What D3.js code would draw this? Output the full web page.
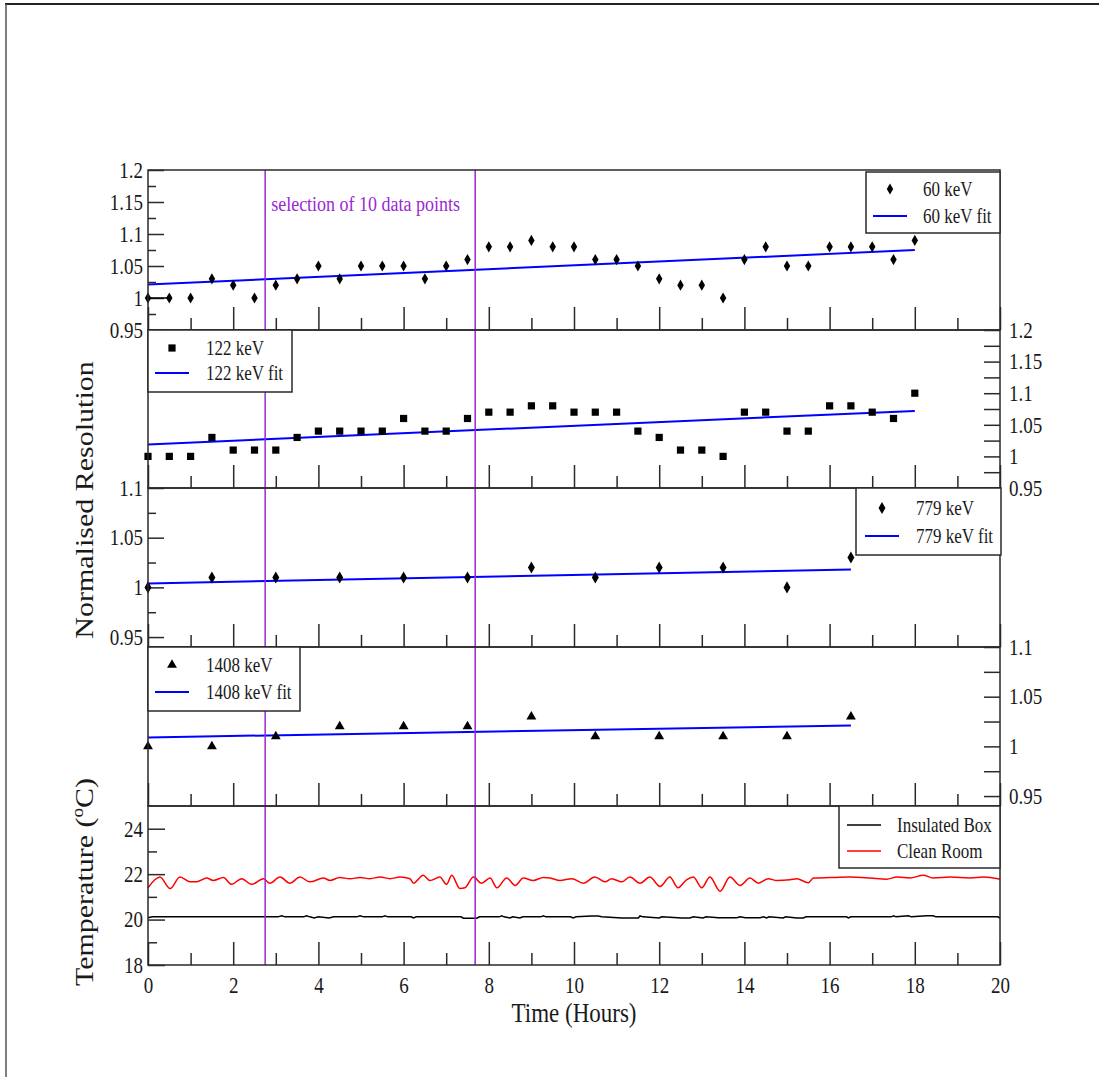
<!DOCTYPE html>
<html>
<head>
<meta charset="utf-8">
<title>Normalised Resolution vs Time</title>
<script src="https://cdn.jsdelivr.net/npm/d3@7"></script>
<style>
  body { margin: 0; background: #fff; }
  text { font-family: "Liberation Serif", "Times New Roman", serif; fill: #1a1a1a; }
</style>
</head>
<body>
<svg id="chart" width="1099" height="1077"></svg>
<script>
// ---- data ----
var timeHalf = [0, 0.5, 1, 1.5, 2, 2.5, 3, 3.5, 4, 4.5, 5, 5.5, 6, 6.5, 7, 7.5, 8, 8.5, 9,
                9.5, 10, 10.5, 11, 11.5, 12, 12.5, 13, 13.5, 14, 14.5, 15, 15.5, 16, 16.5, 17, 17.5, 18];
var res60 = [1.00, 1.00, 1.00, 1.03, 1.02, 1.00, 1.02, 1.03, 1.05, 1.03, 1.05, 1.05, 1.05, 1.03, 1.05, 1.06, 1.08, 1.08, 1.09,
             1.08, 1.08, 1.06, 1.06, 1.05, 1.03, 1.02, 1.02, 1.00, 1.06, 1.08, 1.05, 1.05, 1.08, 1.08, 1.08, 1.06, 1.09];
var fit60 = [1.021, 1.075];
var res122 = [1.00, 1.00, 1.00, 1.03, 1.01, 1.01, 1.01, 1.03, 1.04, 1.04, 1.04, 1.04, 1.06, 1.04, 1.04, 1.06, 1.07, 1.07, 1.08,
              1.08, 1.07, 1.07, 1.07, 1.04, 1.03, 1.01, 1.01, 1.00, 1.07, 1.07, 1.04, 1.04, 1.08, 1.08, 1.07, 1.06, 1.10];
var fit122 = [1.019, 1.072];

var timeSparse = [0, 1.5, 3, 4.5, 6, 7.5, 9, 10.5, 12, 13.5, 15, 16.5];
var res779 = [1.00, 1.01, 1.01, 1.01, 1.01, 1.01, 1.02, 1.01, 1.02, 1.02, 1.00, 1.03];
var fit779 = [1.004, 1.018];
var res1408 = [1.00, 1.00, 1.01, 1.02, 1.02, 1.02, 1.03, 1.01, 1.01, 1.01, 1.01, 1.03];
var fit1408 = [1.009, 1.021];

// clean room temperature (hours, deg C)
var roomTime = [0, 0.28, 0.52, 0.75, 0.99, 1.14, 1.38, 1.53, 1.77, 1.96, 2.2, 2.43, 2.71, 2.86, 3.1, 3.33, 3.57, 3.8,
                4.12, 4.27, 4.5, 4.74, 4.98, 5.21, 5.45, 5.68, 5.92, 6.15, 6.23, 6.46, 6.62, 6.85, 7.01, 7.13, 7.32,
                7.44, 7.64, 7.83, 8.03, 8.19, 8.42, 8.62, 8.81, 9.04, 9.28, 9.44, 9.67, 9.95, 10.22, 10.49, 10.73,
                10.88, 11.12, 11.31, 11.55, 11.78, 12.02, 12.25, 12.44, 12.64, 12.8, 13.0, 13.19, 13.43, 13.66,
                13.9, 14.13, 14.33, 14.56, 14.76, 15.07, 15.23, 15.5, 15.62, 16.0, 16.48, 16.95, 17.34, 17.58,
                17.89, 18.2, 18.43, 18.83, 19.3, 19.61, 19.95, 20];
var roomTemp = [21.40, 21.87, 21.37, 21.87, 21.66, 21.66, 21.83, 21.72, 21.85, 21.55, 21.80, 21.55, 21.80, 21.60, 21.87,
                21.60, 21.87, 21.66, 21.83, 21.72, 21.85, 21.80, 21.85, 21.80, 21.87, 21.80, 21.87, 21.80, 21.60,
                21.95, 21.72, 21.87, 21.55, 21.95, 21.37, 21.40, 21.87, 21.60, 21.83, 21.40, 21.83, 21.50, 21.83,
                21.72, 21.85, 21.83, 21.72, 21.80, 21.60, 21.87, 21.66, 21.80, 21.66, 21.87, 21.60, 21.87, 21.46,
                21.87, 21.40, 21.75, 21.87, 21.40, 21.87, 21.25, 21.87, 21.50, 21.83, 21.60, 21.80, 21.72, 21.75,
                21.80, 21.62, 21.83, 21.85, 21.87, 21.83, 21.78, 21.87, 21.83, 21.95, 21.83, 21.87, 21.83, 21.87,
                21.80, 21.78];

// insulated box temperature
var boxTime = [0, 0.1, 3.05, 3.14, 3.22, 3.65, 3.72, 3.8, 3.9, 4.0, 4.25, 4.36, 4.9, 4.98, 5.06, 5.5, 5.56, 5.63,
               6.18, 6.23, 6.3, 7.35, 7.4, 7.72, 7.78, 8.25, 8.3, 8.36, 8.5, 8.56, 8.73, 8.8, 9.22, 9.28, 9.34,
               9.92, 9.98, 10.05, 10.41, 10.57, 10.65, 11.12, 11.3, 11.51, 11.55, 11.62, 12.0, 12.06, 12.53, 12.72,
               12.8, 13.03, 13.1, 13.39, 13.82, 13.9, 14.02, 14.37, 14.45, 14.52, 14.58, 14.91, 14.97, 15.23, 15.38,
               15.45, 16.4, 16.44, 16.5, 17.45, 17.5, 17.56, 17.85, 17.92, 18.28, 18.43, 18.5, 19.95, 20];
var boxTemp = [20.08, 20.12, 20.12, 20.17, 20.12, 20.12, 20.17, 20.12, 20.07, 20.12, 20.07, 20.12, 20.12, 20.17, 20.12,
               20.12, 20.17, 20.12, 20.12, 20.07, 20.12, 20.12, 20.06, 20.06, 20.12, 20.12, 20.17, 20.12, 20.07,
               20.12, 20.07, 20.12, 20.12, 20.17, 20.12, 20.12, 20.07, 20.12, 20.16, 20.16, 20.12, 20.07, 20.07,
               20.07, 20.16, 20.12, 20.07, 20.12, 20.07, 20.07, 20.12, 20.07, 20.12, 20.08, 20.08, 20.12, 20.08,
               20.08, 20.12, 20.07, 20.12, 20.07, 20.12, 20.07, 20.07, 20.12, 20.12, 20.07, 20.12, 20.12, 20.17,
               20.12, 20.17, 20.12, 20.17, 20.17, 20.12, 20.12, 20.06];

var selection = [2.75, 7.68];

// tick labels
var xMajor = [0, 2, 4, 6, 8, 10, 12, 14, 16, 18, 20];
var xMinor = [1, 3, 5, 7, 9, 11, 13, 15, 17, 19];
var resTicksWide = [0.95, 1, 1.05, 1.1, 1.15, 1.2];
var resMinorWide = [0.975, 1.025, 1.075, 1.125, 1.175];
var resTicksNarrow = [0.95, 1, 1.05, 1.1];
var resMinorNarrow = [0.975, 1.025, 1.075];
var tempTicks = [18, 20, 22, 24];
var tempMinor = [19, 21, 23];

// ---- layout ----
var svg = d3.select("#chart");
var left = 148, right = 1000;
var SY = 1.2;   // the original figure is stretched vertically
var purple = "#9a28d4";
var frameColor = "#2a2a2a";

var x = d3.scaleLinear().domain([0, 20]).range([left, right]);

var panels = [
  {top: 170, bottom: 330, domain: [0.95, 1.2]},
  {top: 330, bottom: 488, domain: [0.95, 1.2]},
  {top: 488, bottom: 647, domain: [0.94, 1.1]},
  {top: 647, bottom: 806, domain: [0.94, 1.1]},
  {top: 806, bottom: 965, domain: [18, 25]}
];
panels.forEach(function(p) {
  p.y = d3.scaleLinear().domain(p.domain).range([p.bottom, p.top]);
});

// page border
svg.append("line").attr("x1", 5).attr("x2", 1099).attr("y1", 4).attr("y2", 4)
  .attr("stroke", "#222").attr("stroke-width", 2);
svg.append("line").attr("x1", 6).attr("x2", 6).attr("y1", 4).attr("y2", 1077)
  .attr("stroke", "#555").attr("stroke-width", 1.5);

function label(g, px, py, str, size, anchor) {
  return g.append("text")
    .attr("transform", "translate(" + px + "," + py + ") scale(1," + SY + ")")
    .attr("font-size", size)
    .attr("text-anchor", anchor || "start")
    .attr("dy", "0.35em")
    .text(str);
}

function styleAxis(sel) {
  sel.select(".domain").remove();
  sel.selectAll(".tick line").attr("stroke", frameColor).attr("stroke-width", 1.5);
  sel.selectAll("text").attr("font-family", "Liberation Serif").attr("fill", "#1a1a1a");
}

var fmt = d3.format("~g");

function yAxis(p, side, major, minor, majLen, minLen) {
  var mk = side === "left" ? d3.axisLeft : d3.axisRight;
  var pos = side === "left" ? left : right;
  var g1 = svg.append("g").attr("transform", "translate(" + pos + ",0)")
    .call(mk(p.y).tickValues(major).tickSizeInner(-majLen).tickSizeOuter(0)
      .tickPadding(side === "left" ? 5 : 9).tickFormat(fmt))
    .attr("font-size", 19);
  styleAxis(g1);
  g1.selectAll("text").attr("transform", "scale(1," + SY + ")");
  var g2 = svg.append("g").attr("transform", "translate(" + pos + ",0)")
    .call(mk(p.y).tickValues(minor).tickSizeInner(-minLen).tickSizeOuter(0).tickFormat(""));
  styleAxis(g2);
}

function xTicks(p, withLabels) {
  var g1 = svg.append("g").attr("transform", "translate(0," + p.bottom + ")")
    .call(d3.axisBottom(x).tickValues(xMajor).tickSizeInner(-23).tickSizeOuter(0)
      .tickPadding(10).tickFormat(withLabels ? fmt : ""))
    .attr("font-size", 19);
  styleAxis(g1);
  g1.selectAll("text").attr("transform", "scale(1," + SY + ")");
  var g2 = svg.append("g").attr("transform", "translate(0," + p.bottom + ")")
    .call(d3.axisBottom(x).tickValues(xMinor).tickSizeInner(-12).tickSizeOuter(0).tickFormat(""));
  styleAxis(g2);
}

panels.forEach(function(p, i) { xTicks(p, i === 4); });
yAxis(panels[0], "left", resTicksWide, resMinorWide, 16, 8);
yAxis(panels[1], "right", resTicksWide, resMinorWide, 16, 16);
yAxis(panels[2], "left", resTicksNarrow, resMinorNarrow, 16, 8);
yAxis(panels[3], "right", resTicksNarrow, resMinorNarrow, 16, 16);
yAxis(panels[4], "left", tempTicks, tempMinor, 17, 9);

// ---- marks ----
function fitLine(p, times, ends) {
  svg.append("line")
    .attr("x1", x(times[0])).attr("x2", x(times[times.length - 1]))
    .attr("y1", p.y(ends[0])).attr("y2", p.y(ends[1]))
    .attr("stroke", "#0000ff").attr("stroke-width", 2);
}

function points(p, times, vals, symbol, size) {
  var sym = d3.symbol().type(symbol).size(size);
  svg.append("g").selectAll("path")
    .data(vals)
    .join("path")
    .attr("transform", function(d, i) { return "translate(" + x(times[i]) + "," + p.y(d) + ")"; })
    .attr("d", sym)
    .attr("fill", "#000");
}

fitLine(panels[0], timeHalf, fit60);
fitLine(panels[1], timeHalf, fit122);
fitLine(panels[2], timeSparse, fit779);
fitLine(panels[3], timeSparse, fit1408);

// short connector between the first two 60 keV points
svg.append("line")
  .attr("x1", x(timeHalf[0])).attr("x2", x(timeHalf[1]))
  .attr("y1", panels[0].y(res60[0])).attr("y2", panels[0].y(res60[1]))
  .attr("stroke", "#000").attr("stroke-width", 1.5);

points(panels[0], timeHalf, res60, d3.symbolDiamond, 36);
points(panels[1], timeHalf, res122, d3.symbolSquare, 52);
points(panels[2], timeSparse, res779, d3.symbolDiamond, 42);
points(panels[3], timeSparse, res1408, d3.symbolTriangle, 42);

// temperatures
var tp = panels[4];
var boxLine = d3.line().x(function(d, i) { return x(boxTime[i]); }).y(function(d) { return tp.y(d); });
var roomLine = d3.line().curve(d3.curveMonotoneX)
  .x(function(d, i) { return x(roomTime[i]); }).y(function(d) { return tp.y(d); });
svg.append("path").datum(boxTemp).attr("d", boxLine)
  .attr("fill", "none").attr("stroke", "#000").attr("stroke-width", 1.5);
svg.append("path").datum(roomTemp).attr("d", roomLine)
  .attr("fill", "none").attr("stroke", "#ff0000").attr("stroke-width", 1.5);

// selection window
selection.forEach(function(t) {
  svg.append("line")
    .attr("x1", x(t)).attr("x2", x(t))
    .attr("y1", panels[0].top).attr("y2", panels[4].bottom)
    .attr("stroke", purple).attr("stroke-width", 1.5);
});
label(svg, x(selection[0]) + 6, 203, "selection of 10 data points", 18).style("fill", purple);

// panel frames
panels.forEach(function(p) {
  svg.append("rect")
    .attr("x", left).attr("y", p.top)
    .attr("width", right - left).attr("height", p.bottom - p.top)
    .attr("fill", "none").attr("stroke", frameColor).attr("stroke-width", 1.5);
});

// ---- legends ----
function legend(bx, by, bw, bh, rows) {
  var g = svg.append("g");
  g.append("rect").attr("x", bx).attr("y", by).attr("width", bw).attr("height", bh)
    .attr("fill", "#fff").attr("stroke", frameColor).attr("stroke-width", 1.5);
  rows.forEach(function(r) {
    if (r.symbol) {
      g.append("path")
        .attr("transform", "translate(" + r.sx + "," + r.y + ")")
        .attr("d", d3.symbol().type(r.symbol).size(r.size)())
        .attr("fill", "#000");
    } else {
      g.append("line").attr("x1", r.sx - 17).attr("x2", r.sx + 17)
        .attr("y1", r.y).attr("y2", r.y)
        .attr("stroke", r.color).attr("stroke-width", r.color === "#0000ff" ? 2 : 1.5);
    }
    label(g, r.tx, r.y, r.text, 17);
  });
}

legend(866, 172, 134, 61, [
  {symbol: d3.symbolDiamond, size: 36, sx: 890, tx: 923, y: 189, text: "60 keV"},
  {color: "#0000ff", sx: 890, tx: 923, y: 216, text: "60 keV fit"}
]);
legend(148, 330, 144, 62, [
  {symbol: d3.symbolSquare, size: 52, sx: 172, tx: 206, y: 348, text: "122 keV"},
  {color: "#0000ff", sx: 172, tx: 206, y: 373, text: "122 keV fit"}
]);
legend(856, 488, 145, 67, [
  {symbol: d3.symbolDiamond, size: 42, sx: 882, tx: 916, y: 508, text: "779 keV"},
  {color: "#0000ff", sx: 882, tx: 916, y: 536, text: "779 keV fit"}
]);
legend(148, 647, 152, 64, [
  {symbol: d3.symbolTriangle, size: 42, sx: 172, tx: 206, y: 665, text: "1408 keV"},
  {color: "#0000ff", sx: 172, tx: 206, y: 692, text: "1408 keV fit"}
]);
legend(839, 806, 161, 62, [
  {color: "#000", sx: 864, tx: 897, y: 825, text: "Insulated Box"},
  {color: "#ff0000", sx: 864, tx: 897, y: 851, text: "Clean Room"}
]);

// ---- axis titles ----
svg.append("text")
  .attr("transform", "translate(" + x(10) + ",1022) scale(1," + SY + ")")
  .attr("text-anchor", "middle").attr("font-size", 23)
  .text("Time (Hours)");

svg.append("text")
  .attr("transform", "translate(93,500) rotate(-90) scale(" + SY + ",1)")
  .attr("text-anchor", "middle").attr("font-size", 25)
  .text("Normalised Resolution");

var tt = svg.append("text")
  .attr("transform", "translate(93,882) rotate(-90) scale(" + SY + ",1)")
  .attr("text-anchor", "middle").attr("font-size", 25);
tt.append("tspan").text("Temperature (");
tt.append("tspan").attr("font-size", 16).attr("dy", -10).text("o");
tt.append("tspan").attr("dy", 10).text("C)");
</script>
</body>
</html>
